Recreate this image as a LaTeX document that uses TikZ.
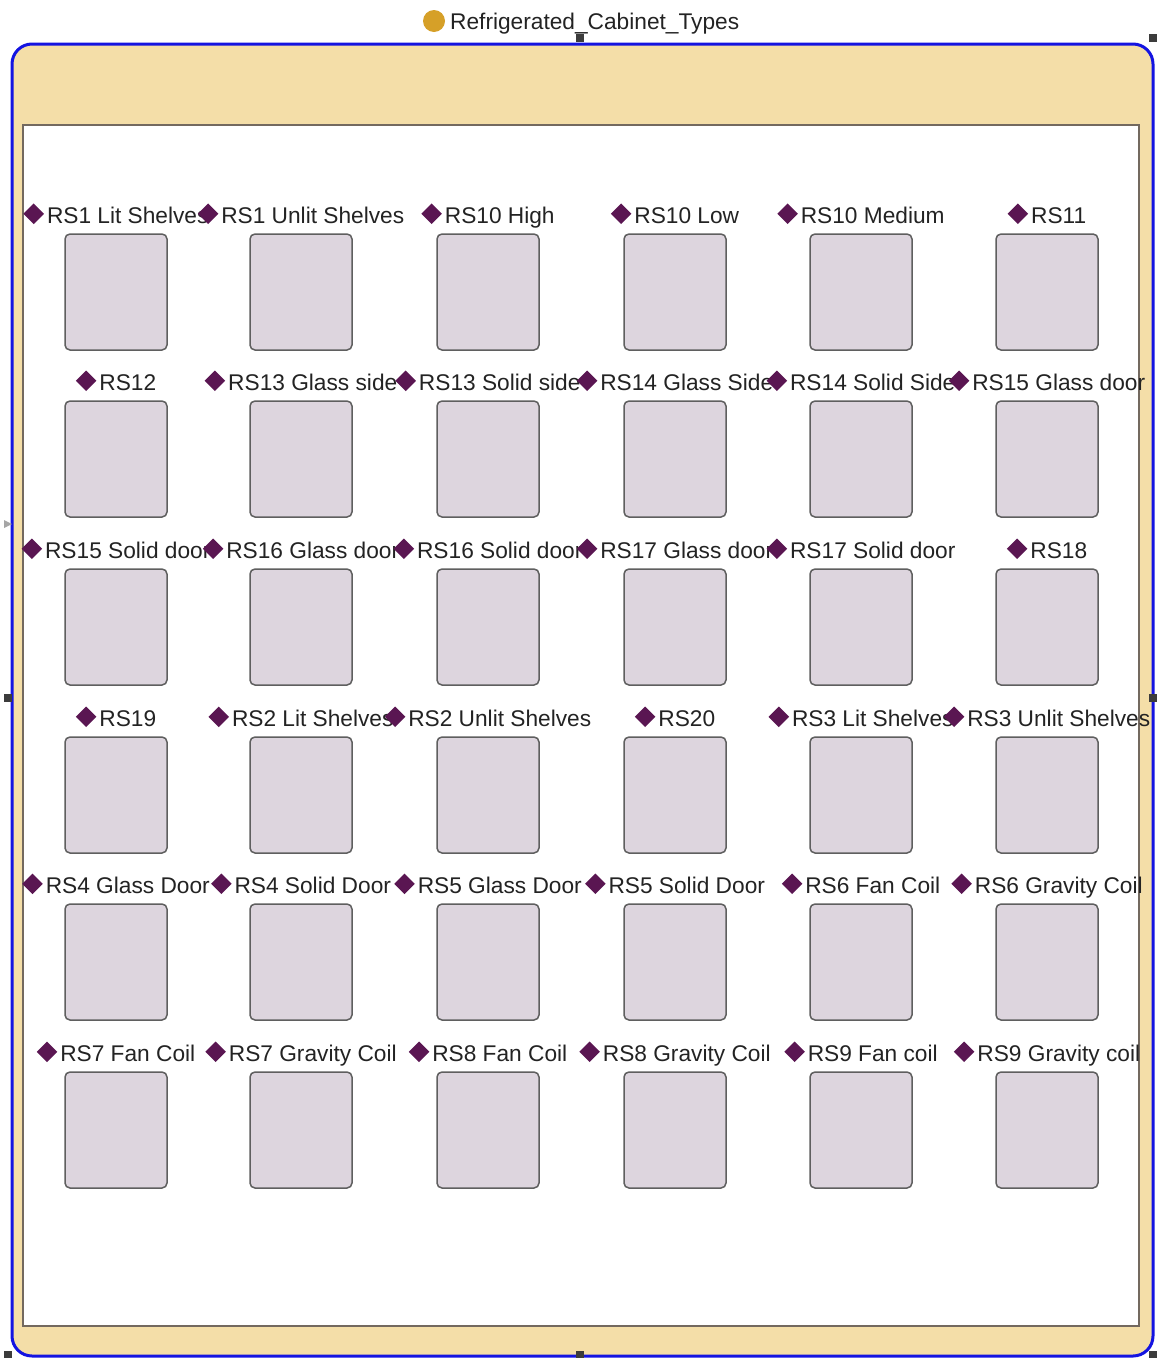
\documentclass[tikz,border=0pt]{standalone}
\usepackage{fontspec}
\setmainfont{Liberation Sans}
\definecolor{beige}{RGB}{244,222,168}
\definecolor{frameblue}{RGB}{20,20,225}
\definecolor{boxfill}{RGB}{221,213,222}
\definecolor{boxline}{RGB}{95,95,95}
\definecolor{diacol}{RGB}{90,22,82}
\definecolor{goldcol}{RGB}{214,160,40}
\definecolor{innerline}{RGB}{115,105,95}
\definecolor{handlecol}{RGB}{60,60,60}
\definecolor{txtcol}{RGB}{35,35,35}
\newcommand{\dmd}{\textcolor{diacol}{\raisebox{-1pt}{\rotatebox{45}{\rule{14.5pt}{14.5pt}}}}}
\tikzset{
  frame/.style={draw=frameblue, line width=3pt, fill=beige, rounded corners=20pt},
  innerpanel/.style={draw=innerline, line width=1.5pt, fill=white},
  cab/.style={draw=boxline, fill=boxfill, line width=1.5pt, rounded corners=5pt,
    minimum width=102pt, minimum height=116pt, inner sep=0pt},
  lbl/.style={inner sep=0pt, text=txtcol, anchor=base, font=\fontsize{22.7}{27}\selectfont},
  ttl/.style={inner sep=0pt, text=txtcol, anchor=base west, font=\fontsize{22.7}{27}\selectfont},
  handle/.style={fill=handlecol}
}
\begin{document}
\begin{tikzpicture}[x=1pt,y=-1pt]
\useasboundingbox (0,0) rectangle (1159,1358);
% outer frame
\draw[frame] (12,44) rectangle (1153,1356);
\draw[innerpanel] (23,125) rectangle (1139,1326);
% title
\fill[goldcol] (434,21) circle (11);
\node[ttl] (title) at (450,29) {Refrigerated\_Cabinet\_Types};
% cabinets
\foreach \lab [count=\k from 0] in {%
RS1 Lit Shelves,RS1 Unlit Shelves,RS10 High,RS10 Low,RS10 Medium,RS11,%
RS12,RS13 Glass side,RS13 Solid side,RS14 Glass Side,RS14 Solid Side,RS15 Glass door,%
RS15 Solid door,RS16 Glass door,RS16 Solid door,RS17 Glass door,RS17 Solid door,RS18,%
RS19,RS2 Lit Shelves,RS2 Unlit Shelves,RS20,RS3 Lit Shelves,RS3 Unlit Shelves,%
RS4 Glass Door,RS4 Solid Door,RS5 Glass Door,RS5 Solid Door,RS6 Fan Coil,RS6 Gravity Coil,%
RS7 Fan Coil,RS7 Gravity Coil,RS8 Fan Coil,RS8 Gravity Coil,RS9 Fan coil,RS9 Gravity coil%
}{
  \pgfmathtruncatemacro\col{mod(\k,6)}
  \pgfmathtruncatemacro\row{div(\k,6)}
  \pgfmathsetmacro\cx{{116,301,488,675,861,1047}[\col]}
  \pgfmathsetmacro\tp{{234,401,569,737,904,1072}[\row]}
  \node[cab] (b\k) at (\cx,\tp+58) {};
  \node[lbl] (l\k) at (\cx,\tp-11) {\dmd\hspace{3pt}\lab};
}
% selection handles
\foreach \hx/\hy [count=\h] in {580/38,1153/38,8/698,1153/698,580/1355,8/1355,1153/1355}{
  \fill[handle] (\hx-4,\hy-4) rectangle (\hx+4,\hy+4);
}
\fill[gray!70] (4,520) -- (12,524) -- (4,528) -- cycle;
\end{tikzpicture}
\end{document}
